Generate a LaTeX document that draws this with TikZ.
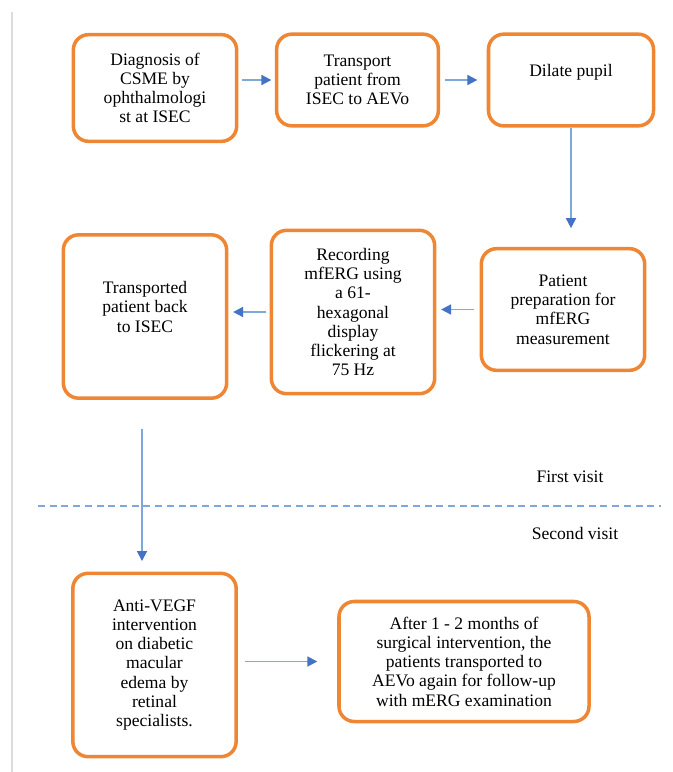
\documentclass[tikz,border=0pt]{standalone}
\usepackage{fontspec}
\setmainfont{Liberation Serif}
\usetikzlibrary{arrows.meta}
\definecolor{FlowOrange}{HTML}{EE8633}
\definecolor{FlowBlue}{HTML}{4472C4}
\definecolor{FlowLine}{HTML}{7FA7DC}
\definecolor{FlowGray}{HTML}{DCDCDC}

\begin{document}
\begin{tikzpicture}[
      x=0.03cm, y=-0.03cm,
      etapa/.style={rectangle, rounded corners=13pt, draw=FlowOrange, line width=3pt,
        fill=white, align=center, font=\fontsize{15}{16.4}\selectfont, inner sep=3pt},
      flecha/.style={-{Triangle[length=8.5pt, width=8.5pt, color=FlowBlue]},
        draw=FlowLine, line width=1.5pt},
      nota/.style={font=\fontsize{15}{16.4}\selectfont, inner sep=2pt},
    ]

    \path[use as bounding box, fill=white] (0,0) rectangle (673,772);
    \draw[FlowGray, line width=1.2pt] (12,12) -- (12,772);

    \node[etapa, minimum width=4.9cm,  minimum height=3.2cm]  (diag)   at (155,88)    {Diagnosis of\\CSME by\\ophthalmologi\\st at ISEC};
    \node[etapa, minimum width=4.85cm, minimum height=2.75cm] (trans)  at (357.5,80)  {Transport\\patient from\\ISEC to AEVo};
    \node[etapa, minimum width=4.95cm, minimum height=2.75cm] (dilate) at (571,80)    {Dilate pupil\\\mbox{}};
    \node[etapa, minimum width=4.9cm,  minimum height=3.65cm] (prep)   at (563,309.5) {Patient\\preparation for\\mfERG\\measurement};
    \node[etapa, minimum width=4.9cm,  minimum height=4.9cm]  (record) at (353,312)   {Recording\\mfERG using\\a 61-\\hexagonal\\display\\flickering at\\75 Hz};
    \node[etapa, minimum width=4.9cm,  minimum height=4.9cm]  (back)   at (145,316.5) {Transported\\patient back\\to ISEC\\\mbox{}};
    \node[etapa, minimum width=4.9cm,  minimum height=5.5cm]  (vegf)   at (154.5,665) {Anti-VEGF\\intervention\\on diabetic\\macular\\edema by\\retinal\\specialists.};
    \node[etapa, minimum width=7.5cm,  minimum height=3.6cm]  (follow) at (464,661.5) {After 1 - 2 months of\\surgical intervention, the\\patients transported to\\AEVo again for follow-up\\with mERG examination};

    \node[nota] (first)  at (570,477) {First visit};
    \node[nota] (second) at (575,533) {Second visit};
    \draw[FlowLine, line width=1.1pt, dashed, dash pattern=on 6pt off 4pt] (38,506) -- (661,506);

    \draw[flecha, shorten <=3pt, shorten >=3pt] (diag.east |- trans.west) -- (trans.west);
    \draw[flecha, shorten <=4pt, shorten >=8pt] (trans.east) -- (dilate.west);
    \draw[flecha, shorten >=16pt] (dilate.south) -- (dilate.south |- prep.north);
    \draw[flecha, shorten <=5pt, shorten >=4pt] (prep.west) -- (prep.west -| record.east);
    \draw[flecha, shorten <=3pt, shorten >=4pt] (record.west) -- (record.west -| back.east);
    \draw[flecha, shorten <=25pt, shorten >=9pt] (back.south) ++(-3,0) coordinate (drop) -- (drop |- vegf.north);
    \draw[flecha, shorten <=6pt, shorten >=17pt] (vegf.east |- follow.west) -- (follow.west);

  \end{tikzpicture}
\end{document}
